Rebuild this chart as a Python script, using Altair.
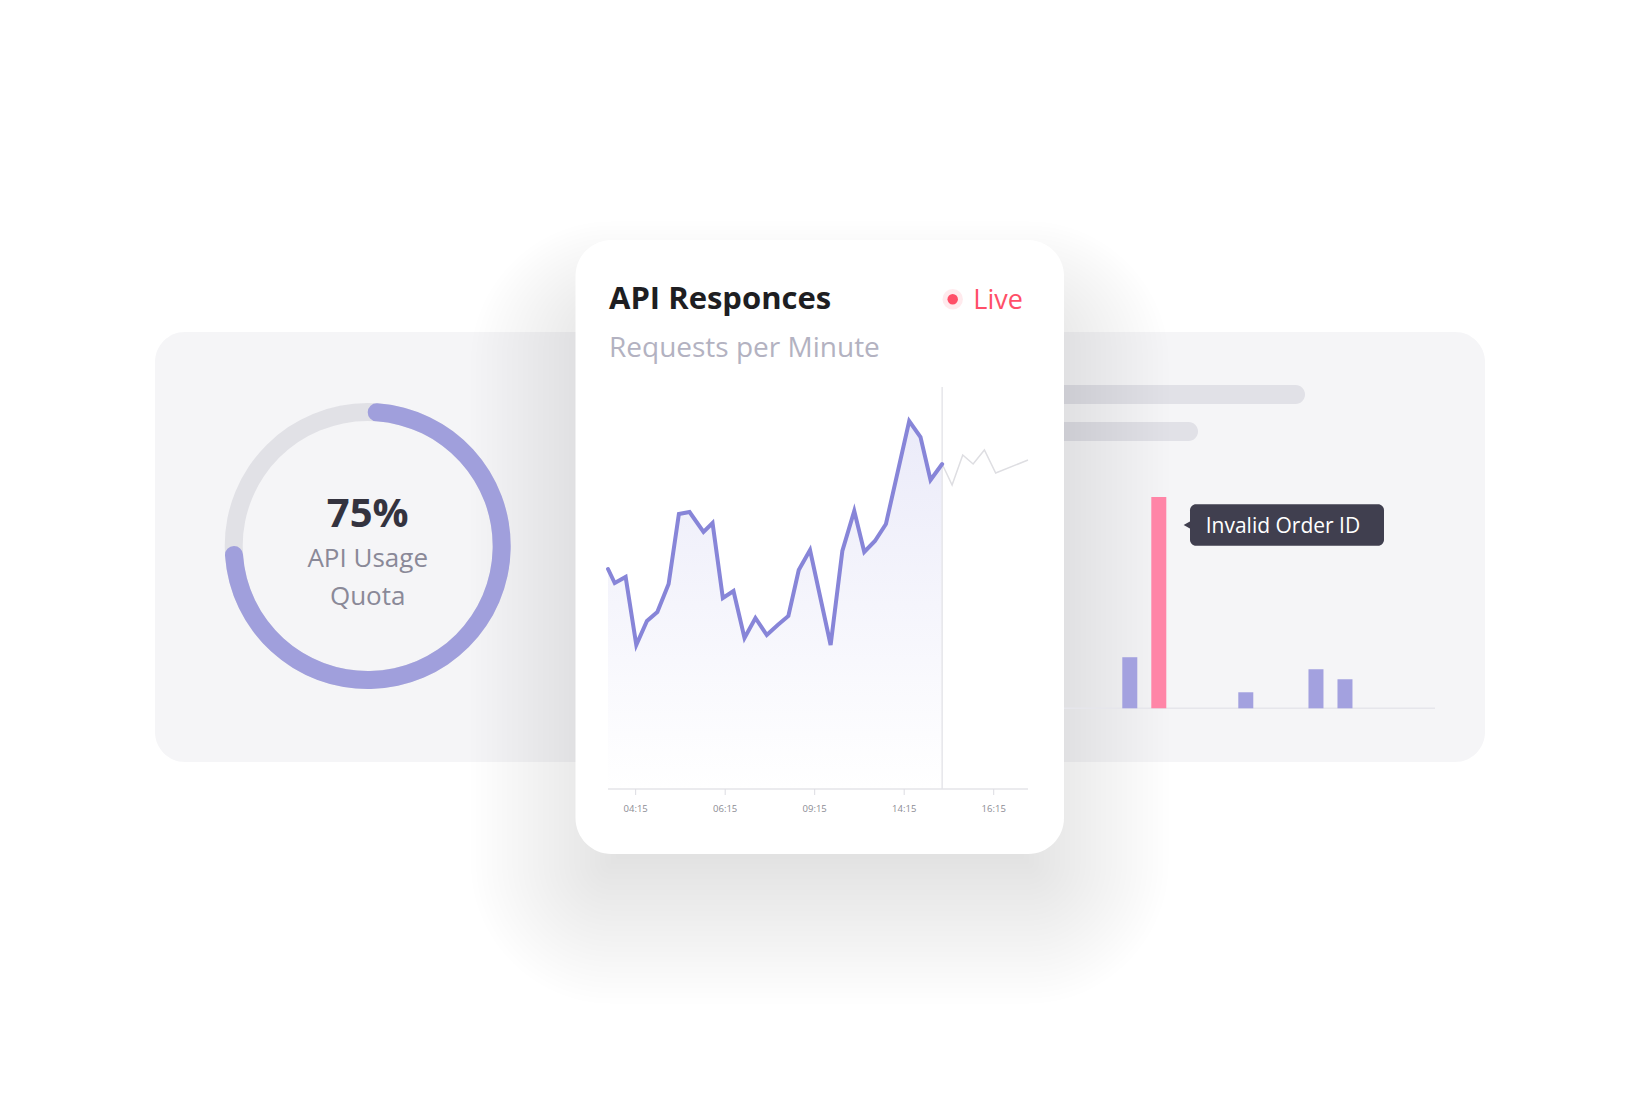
import altair as alt
import pandas as pd
import numpy as np

# ---------------- data ----------------
# line chart: requests per minute (x in axis tick units, 1 = 04:15 ... 5 = 16:15)
t_main = [0.691, 0.766, 0.888, 1.007, 1.126, 1.242, 1.368, 1.483, 1.602, 1.758,
          1.859, 1.974, 2.093, 2.216, 2.338, 2.465, 2.587, 2.706, 2.822, 2.948,
          3.178, 3.309, 3.442, 3.554, 3.673, 3.796, 4.056, 4.182, 4.294, 4.424]
rpm_main = [220, 206, 212, 144, 168, 177, 205, 275, 277, 257,
            266, 191, 198, 151, 171, 154, 164, 173, 219, 239,
            144, 238, 278, 237, 248, 265, 368, 352, 309, 325]
t_live = [4.424, 4.535, 4.654, 4.770, 4.896, 5.022, 5.383]
rpm_live = [325, 304, 334, 325, 339, 316, 329]
now_t = [4.424]
tick_pos = [1, 2, 3, 4, 5]
tick_labels = ["04:15", "06:15", "09:15", "14:15", "16:15"]

# error bars (right panel)
err_slot = [0, 1, 4, 6.42, 7.42]
err_count = [51, 211, 16, 39, 29]
err_kind = ["other", "invalid", "other", "other", "other"]

# donut
quota_used = [75]

# ---------------- helpers ----------------
W, H = 1624, 1078
dummy = pd.DataFrame({"d": [0]})


def R(v):  # reference pixel -> chart pixel
    return v - 8


def rect(x1, x2, y1, y2, color, radius=0, opacity=1.0):
    return alt.Chart(dummy).mark_rect(color=color, cornerRadius=radius, opacity=opacity).encode(
        x=alt.value(R(x1)), x2=alt.value(R(x2)), y=alt.value(R(y1)), y2=alt.value(R(y2)))


def text(s, x, y, size, color, weight="normal", align="left", font="Open Sans"):
    return alt.Chart(dummy).mark_text(text=s, fontSize=size, color=color, fontWeight=weight,
                                      align=align, baseline="alphabetic", font=font).encode(
        x=alt.value(R(x)), y=alt.value(R(y)))


layers = []

# background panel
layers.append(rect(155, 1485, 332, 762, "#f5f5f7", radius=30))

# skeleton lines on the right panel
layers.append(rect(1000, 1305, 385, 404, "#e1e1e7", radius=9.5))
layers.append(rect(1000, 1198, 422, 441, "#e1e1e7", radius=9.5))

# tooltip soft shadow
for e in np.linspace(-10, 40, 10):
    layers.append(rect(1195 - e, 1380 + e, 545 - e * 0.5, 595 + e, "#28285a",
                       radius=max(8 + e, 2), opacity=0.0016))

# card shadow
cx1, cx2, cy1, cy2 = 575.5, 1064, 240, 854
N = 30
a = 1 - (0.91) ** (1 / N)
for e in np.linspace(-45, 105, N):
    layers.append(rect(cx1 - e, cx2 + e, cy1 + 65 - e * 0.8, cy2 + 45 + e, "#28285a",
                       radius=max(36 + e, 2), opacity=a))

# bar chart baseline
layers.append(alt.Chart(dummy).mark_rule(color="#e6e6eb", strokeWidth=1.5).encode(
    x=alt.value(R(1000)), x2=alt.value(R(1435)), y=alt.value(R(708.3))))

# bars
bars_df = pd.DataFrame({"slot": err_slot, "count": err_count, "kind": err_kind})
bars = alt.Chart(bars_df).mark_bar(size=15).encode(
    x=alt.X("slot:Q", scale=alt.Scale(domain=[0, 10], range=[R(1124.8), R(1424.8)]), axis=None),
    y=alt.Y("count:Q", scale=alt.Scale(domain=[0, 211], range=[R(708.3), R(497)]), axis=None),
    color=alt.Color("kind:N", scale=alt.Scale(domain=["other", "invalid"],
                                              range=["#a3a1df", "#ff85a7"]), legend=None),
)
layers.append(bars)

# tooltip
layers.append(rect(1190, 1384, 504.3, 545.7, "#403f4f", radius=6))
layers.append(alt.Chart(dummy).mark_point(shape="triangle-left", filled=True, size=60,
                                          color="#403f4f", opacity=1).encode(
    x=alt.value(R(1187)), y=alt.value(R(525))))
layers.append(text("Invalid Order ID", 1205.7, 532.5, 21, "#ffffff"))

# donut
cxd, cyd = R(367.7), R(546)
layers.append(alt.Chart(dummy).mark_arc(innerRadius=125, outerRadius=143, theta=0, theta2=6.2832,
                                        color="#e1e1e6").encode(
    x=alt.value(cxd), y=alt.value(cyd)))
donut_df = pd.DataFrame({"start": [0], "end": quota_used})
layers.append(alt.Chart(donut_df).mark_arc(innerRadius=125, outerRadius=143, cornerRadius=9,
                                           color="#a09fdc").encode(
    theta=alt.Theta("start:Q", scale=alt.Scale(domain=[0, 100], range=[0, 6.2832])),
    theta2="end:Q",
    x=alt.value(cxd), y=alt.value(cyd)))
layers.append(text(f"{quota_used[0]}%", 367.7, 527, 40, "#34333f", weight="bold", align="center"))
layers.append(text("API Usage", 367.7, 567, 26, "#8a8998", align="center"))
layers.append(text("Quota", 367.7, 605, 26, "#8a8998", align="center"))

# card
layers.append(rect(cx1, cx2, cy1, cy2, "#ffffff", radius=36))

# card header
layers.append(text("API Responces", 609, 309.3, 31, "#1e1e22", weight="bold"))
layers.append(text("Requests per Minute", 609, 357.3, 28, "#b3b2c1"))
layers.append(alt.Chart(dummy).mark_circle(size=420, color="#ff4f68", opacity=0.12).encode(
    x=alt.value(R(952.7)), y=alt.value(R(299.3))))
layers.append(alt.Chart(dummy).mark_circle(size=110, color="#ff4f68", opacity=1).encode(
    x=alt.value(R(952.7)), y=alt.value(R(299.3))))
layers.append(text("Live", 973.3, 309.3, 27, "#ff4f68"))

# line chart
xs = alt.Scale(domain=[0.691, 5.383], range=[R(608), R(1028)])
ys = alt.Scale(domain=[0, 400], range=[R(789), R(389)])
main_df = pd.DataFrame({"t": t_main, "rpm": rpm_main})
live_df = pd.DataFrame({"t": t_live, "rpm": rpm_live})
now_df = pd.DataFrame({"t": now_t, "top": [402], "bottom": [0]})
tick_df = pd.DataFrame({"t": tick_pos, "label": tick_labels})
dom_df = pd.DataFrame({"t": [t_main[0]], "t2": [t_live[-1]], "y": [0]})

area = alt.Chart(main_df).mark_area(
    color=alt.LinearGradient(gradient="linear",
                             stops=[alt.GradientStop(color="#ebebf9", offset=0),
                                    alt.GradientStop(color="#ffffff", offset=1)],
                             x1=1, x2=1, y1=0, y2=1)
).encode(
    x=alt.X("t:Q", scale=xs, axis=None),
    y=alt.Y("rpm:Q", scale=ys, axis=None),
)
axis_domain = alt.Chart(dom_df).mark_rule(color="#e4e4e9", strokeWidth=1.5).encode(
    x=alt.X("t:Q", scale=xs), x2="t2:Q", y=alt.Y("y:Q", scale=ys))
axis_ticks = alt.Chart(tick_df).mark_rule(color="#dcdce2", strokeWidth=1).encode(
    x=alt.X("t:Q", scale=xs), y=alt.value(R(789)), y2=alt.value(R(795)))
axis_labels = alt.Chart(tick_df).mark_text(fontSize=9.5, color="#8c8c94", font="Open Sans",
                                           baseline="alphabetic", align="center").encode(
    x=alt.X("t:Q", scale=xs), y=alt.value(R(811.5)), text="label:N")
now_rule = alt.Chart(now_df).mark_rule(color="#e6e6ea", strokeWidth=1.5).encode(
    x=alt.X("t:Q", scale=xs), y=alt.Y("top:Q", scale=ys), y2="bottom:Q")
live_line = alt.Chart(live_df).mark_line(color="#dedee2", strokeWidth=1.5).encode(
    x=alt.X("t:Q", scale=xs), y=alt.Y("rpm:Q", scale=ys))
main_line = alt.Chart(main_df).mark_line(color="#8785d8", strokeWidth=4, strokeCap="round").encode(
    x=alt.X("t:Q", scale=xs), y=alt.Y("rpm:Q", scale=ys))
layers.append(alt.layer(area, now_rule, axis_domain, axis_ticks, axis_labels, live_line, main_line))

chart = alt.layer(*layers, data=dummy).resolve_scale(
    x="independent", y="independent", color="independent"
).properties(
    width=W, height=H, padding=0, autosize="none", background="#ffffff"
).configure_view(strokeWidth=0)

chart.save("out.html", embed_options={"renderer": "svg", "actions": False})
